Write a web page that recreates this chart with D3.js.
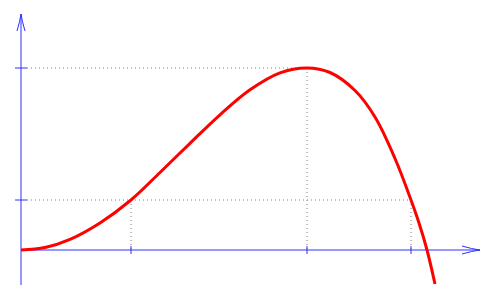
<!DOCTYPE html>
<html>
<head>
<meta charset="utf-8">
<script src="https://cdn.jsdelivr.net/npm/d3@7"></script>
<style>
  html, body { margin: 0; padding: 0; background: #fff; }
</style>
</head>
<body>
<svg id="chart" width="500" height="300"></svg>
<script>
"use strict";

// curve samples (data units)
const curveX = [0, 0.24, 0.49, 0.79, 1.10, 1.39, 1.69, 1.99, 2.29, 2.59, 2.86,
    3.09, 3.34, 3.54, 3.74, 3.90, 3.98, 4.06, 4.14];
const curveY = [0, 0.025, 0.107, 0.271, 0.50, 0.775, 1.067, 1.352, 1.602, 1.772, 1.82,
    1.775, 1.595, 1.33, 0.915, 0.50, 0.27, 0.0, -0.34];
// marked positions on the axes
const xTicks = [1.10, 2.86, 3.90];
const yTicks = [0.50, 1.82];
// guide lines: [x, y] points that get dotted projections onto the axes
const guidePoints = [[1.10, 0.50], [2.86, 1.82], [3.90, 0.50]];
// axis extents
const xExtent = [0, 4.59];
const yExtent = [-0.35, 2.36];

const svg = d3.select("#chart");

const x = d3.scaleLinear().domain(xExtent).range([21, 480]);
const y = d3.scaleLinear().domain(yExtent).range([285, 14]);

const blue = "#3030ff";
const grey = "#808080";

// dotted guides
const guides = svg.append("g")
    .attr("stroke", grey)
    .attr("stroke-width", 1)
    .attr("stroke-dasharray", "1,3")
    .attr("fill", "none");

// horizontal guides: from y axis to the farthest point at that height
yTicks.forEach(v => {
    const xs = guidePoints.filter(p => p[1] === v).map(p => p[0]);
    guides.append("line")
        .attr("x1", x(0) + 6).attr("y1", y(v))
        .attr("x2", x(d3.max(xs))).attr("y2", y(v));
});
// vertical guides: from point down to x axis
guidePoints.forEach(p => {
    guides.append("line")
        .attr("x1", x(p[0])).attr("y1", y(p[1]))
        .attr("x2", x(p[0])).attr("y2", y(0));
});

// axes
const axes = svg.append("g")
    .attr("stroke", blue)
    .attr("stroke-width", 1)
    .attr("fill", "none");

axes.append("line")
    .attr("x1", x(0)).attr("y1", y(0))
    .attr("x2", x(xExtent[1])).attr("y2", y(0));
axes.append("line")
    .attr("x1", x(0)).attr("y1", y(yExtent[0]))
    .attr("x2", x(0)).attr("y2", y(yExtent[1]));

// arrow heads (open, slightly curved)
const ax = x(xExtent[1]), ay = y(0);
axes.append("path")
    .attr("d", `M${ax - 18},${ay - 4} Q${ax - 8},${ay - 1} ${ax},${ay} Q${ax - 8},${ay + 1} ${ax - 18},${ay + 4}`);
const bx = x(0), by = y(yExtent[1]);
axes.append("path")
    .attr("d", `M${bx - 4},${by + 17} Q${bx - 1},${by + 7} ${bx},${by} Q${bx + 1},${by + 7} ${bx + 4},${by + 17}`);

// tick marks
axes.selectAll(".xtick").data(xTicks).enter()
    .append("line")
    .attr("class", "xtick")
    .attr("x1", d => x(d)).attr("x2", d => x(d))
    .attr("y1", y(0) - 4).attr("y2", y(0) + 4);
axes.selectAll(".ytick").data(yTicks).enter()
    .append("line")
    .attr("class", "ytick")
    .attr("x1", x(0) - 6).attr("x2", x(0) + 6)
    .attr("y1", d => y(d)).attr("y2", d => y(d));

// the curve
const pts = curveX.map((v, i) => [v, curveY[i]]);
svg.append("path")
    .datum(pts)
    .attr("fill", "none")
    .attr("stroke", "#ff0000")
    .attr("stroke-width", 3)
    .attr("d", d3.line()
        .x(d => x(d[0]))
        .y(d => y(d[1]))
        .curve(d3.curveCatmullRom.alpha(0.5)));
</script>
</body>
</html>
